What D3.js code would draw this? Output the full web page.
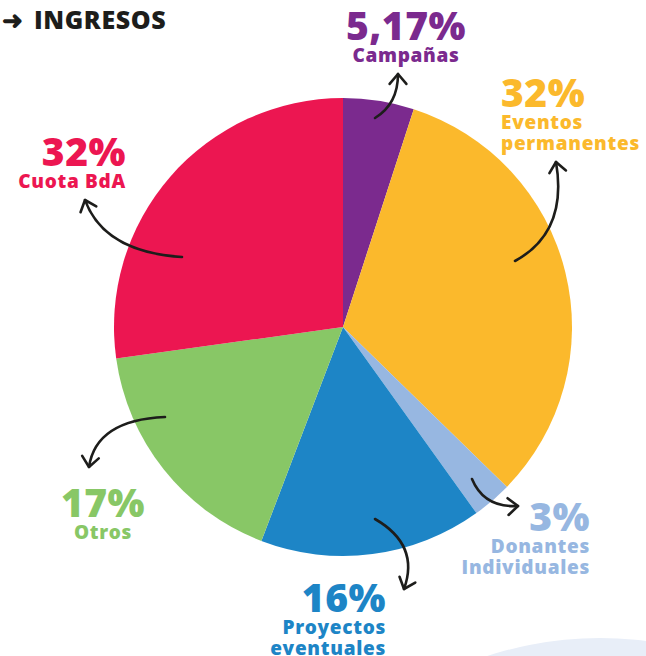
<!DOCTYPE html>
<html>
<head>
<meta charset="utf-8">
<script src="https://cdn.jsdelivr.net/npm/d3@7"></script>
<style>
  body { margin: 0; background: #fff; }
  svg { display: block; font-family: "Open Sans", "Lato", sans-serif; }
</style>
</head>
<body>
<div id="chart"></div>
<script>
// slices, clockwise from 12 o'clock (share of the drawn pie)
var categories = ["Campañas", "Eventos permanentes", "Donantes Individuales", "Proyectos eventuales", "Otros", "Cuota BdA"];
var sliceValues = [5.0, 32.3, 2.8, 15.7, 17.0, 27.2];
var percentLabels = ["5,17%", "32%", "3%", "16%", "17%", "32%"];
var nameLines = [["Campañas"], ["Eventos", "permanentes"], ["Donantes", "Individuales"], ["Proyectos", "eventuales"], ["Otros"], ["Cuota BdA"]];
var colors = ["#7b2a8e", "#fbb92c", "#97b7e1", "#1d85c6", "#88c766", "#ec1651"];

// label placement (x, baseline of percentage, anchor)
var labelPos = [
  {x: 406, y: 40, anchor: "middle"},
  {x: 501, y: 107, anchor: "start"},
  {x: 590, y: 531, anchor: "end"},
  {x: 386, y: 612, anchor: "end"},
  {x: 103, y: 517, anchor: "middle"},
  {x: 126, y: 166, anchor: "end"}
];
// arrows: start, control, tip
var arrows = [
  [[375, 118], [398, 104], [398, 74]],
  [[515, 261], [568, 232], [556, 162]],
  [[182, 257], [104, 252], [85, 200]],
  [[165, 417], [96, 420], [89, 467]],
  [[472, 479], [484, 508], [518, 506]],
  [[375, 519], [420, 545], [404, 589]]
];

var width = 646, height = 656;
var cx = 343, cy = 327, radius = 229;

var svg = d3.select("#chart").append("svg")
  .attr("width", width)
  .attr("height", height);

// faint background shape bottom right
svg.append("circle")
  .attr("cx", 600).attr("cy", 1000).attr("r", 362)
  .attr("fill", "#e8eef8");

// title
var title = svg.append("text")
  .attr("x", 2).attr("y", 29)
  .attr("font-size", 25).attr("font-weight", 800)
  .attr("fill", "#1d1d1b");
title.append("tspan").text("➜ ");
title.append("tspan").attr("x", 34).attr("letter-spacing", 0.6).text("INGRESOS");

var pie = d3.pie().sort(null).value(function(d) { return d; });
var arc = d3.arc().innerRadius(0).outerRadius(radius);

svg.append("g")
  .attr("transform", "translate(" + cx + "," + cy + ")")
  .selectAll("path")
  .data(pie(sliceValues))
  .enter().append("path")
  .attr("d", arc)
  .attr("fill", function(d, i) { return colors[i]; });

// arrows
var line = d3.line();
arrows.forEach(function(a) {
  var p = d3.path();
  p.moveTo(a[0][0], a[0][1]);
  p.quadraticCurveTo(a[1][0], a[1][1], a[2][0], a[2][1]);
  svg.append("path")
    .attr("d", p.toString())
    .attr("fill", "none")
    .attr("stroke", "#1d1d1b")
    .attr("stroke-width", 2.6)
    .attr("stroke-linecap", "round");
  var ang = Math.atan2(a[2][1] - a[1][1], a[2][0] - a[1][0]);
  var len = 13, spread = 0.7;
  var tip = a[2];
  var head = [
    [tip[0] - len * Math.cos(ang - spread), tip[1] - len * Math.sin(ang - spread)],
    tip,
    [tip[0] - len * Math.cos(ang + spread), tip[1] - len * Math.sin(ang + spread)]
  ];
  svg.append("path")
    .attr("d", line(head))
    .attr("fill", "none")
    .attr("stroke", "#1d1d1b")
    .attr("stroke-width", 2.6)
    .attr("stroke-linecap", "round")
    .attr("stroke-linejoin", "round");
});

// labels
var labels = svg.selectAll("g.label")
  .data(categories)
  .enter().append("g")
  .attr("class", "label");

labels.each(function(d, i) {
  var g = d3.select(this);
  var pos = labelPos[i];
  g.append("text")
    .attr("x", pos.x).attr("y", pos.y)
    .attr("text-anchor", pos.anchor)
    .attr("font-size", 39).attr("font-weight", 800)
    .attr("letter-spacing", 0.5)
    .attr("fill", colors[i])
    .text(percentLabels[i]);
  nameLines[i].forEach(function(t, j) {
    g.append("text")
      .attr("x", pos.x).attr("y", pos.y + 22 + j * 21)
      .attr("text-anchor", pos.anchor)
      .attr("font-size", 19).attr("font-weight", 800)
      .attr("letter-spacing", 0.7)
      .attr("fill", colors[i])
      .text(t);
  });
});
</script>
</body>
</html>
